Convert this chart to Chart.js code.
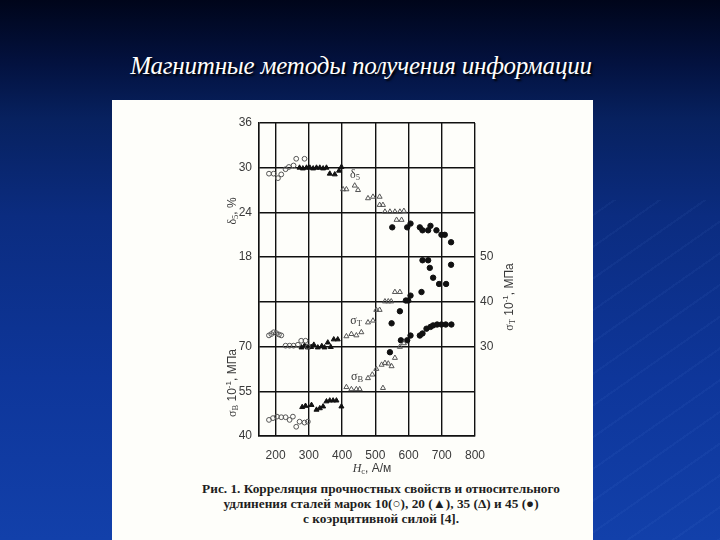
<!DOCTYPE html>
<html><head><meta charset="utf-8">
<script src="https://cdn.jsdelivr.net/npm/chart.js@4/dist/chart.umd.min.js"></script>
<style>
html,body{margin:0;padding:0;}
body{width:720px;height:540px;position:relative;overflow:hidden;
background:linear-gradient(180deg,#00051a 0%,#031240 12%,#07215f 22%,#0b2c80 40%,#0e369a 70%,#1240aa 100%);}
#streaks{position:absolute;left:590px;top:200px;width:130px;height:340px;
background:repeating-linear-gradient(-35deg,rgba(120,170,255,0.05) 0 2px,rgba(0,0,0,0) 2px 26px);}
#title{position:absolute;left:0;width:722px;top:52px;text-align:center;color:#fff;
font-family:"Liberation Serif",serif;font-style:italic;font-size:25px;letter-spacing:-0.2px;
text-shadow:2px 2px 2px #000;}
#panel{position:absolute;left:112px;top:100px;width:481px;height:440px;background:#fefefa;}
#cap{position:absolute;left:170px;width:422px;top:481px;text-align:center;color:#1e1e1e;
font-family:"Liberation Serif",serif;font-weight:bold;font-size:13.3px;line-height:15px;}
canvas{position:absolute;left:0;top:0;}
</style></head>
<body>
<div id="streaks"></div>
<div id="title">Магнитные методы получения информации</div>
<div id="panel"></div>
<div id="cap">Рис. 1. Корреляция прочностных свойств и относительного<br>удлинения сталей марок 10(○), 20 (▲), 35 (Δ) и 45 (●)<br>с коэрцитивной силой [4].</div>
<canvas id="c" width="720" height="540"></canvas>
<script>
// Tick labels
const xTicks = [200, 300, 400, 500, 600, 700, 800];
const deltaTicks = [18, 24, 30, 36];
const sigmaBTicks = [40, 55, 70];
const sigmaTTicks = [30, 40, 50];

// Steel 10 (open circles)
const hcD10 = [180, 194, 207, 217, 230, 240, 254, 262, 287];
const delta10 = [29.2, 29.2, 28.6, 29.1, 29.8, 30.1, 30.3, 31.2, 31.2];
const hcT10 = [180, 187, 194, 202, 210, 217, 230, 242, 254, 267, 277, 290, 297];
const sigT10 = [32.5, 32.8, 33.2, 33.0, 32.7, 32.5, 30.2, 30.2, 30.2, 30.4, 31.3, 31.3, 30.0];
const hcB10 = [180, 192, 204, 217, 230, 242, 252, 262, 272, 287, 297];
const sigB10 = [45.4, 46.0, 46.5, 46.3, 46.3, 45.4, 46.5, 43.1, 44.8, 44.5, 44.8];

// Steel 20 (filled triangles)
const hcD20 = [272, 282, 293, 303, 313, 323, 333, 343, 353, 363, 378, 391, 398];
const delta20 = [30.0, 29.9, 30.0, 30.0, 29.9, 30.0, 30.0, 29.9, 30.0, 29.2, 29.1, 29.6, 30.1];
const hcT20 = [278, 287, 297, 307, 315, 327, 339, 347, 357, 366, 375, 387];
const sigT20 = [29.8, 30.2, 29.8, 29.9, 30.4, 29.8, 30.1, 29.8, 30.9, 29.9, 31.6, 31.6];
const hcB20 = [280, 290, 308, 323, 333, 343, 353, 363, 373, 383, 398];
const sigB20 = [49.7, 50.1, 50.4, 48.8, 49.3, 49.9, 51.6, 51.9, 51.9, 51.9, 49.9];

// Steel 35 (open triangles)
const hcD35 = [403, 413, 438, 448, 478, 493, 513, 513, 523, 529, 544, 559, 574, 586, 564, 579];
const delta35 = [27.1, 27.1, 27.6, 27.0, 25.9, 26.1, 26.1, 25.0, 25.0, 24.1, 24.1, 24.1, 24.1, 24.2, 23.0, 23.0];
const hcT35 = [413, 428, 443, 458, 478, 493, 503, 513, 529, 539, 548, 559, 574];
const sigT35 = [32.3, 32.8, 32.5, 33.2, 35.4, 35.8, 38.2, 38.2, 40.1, 40.1, 40.1, 42.2, 42.2];
const hcB35 = [413, 428, 443, 453, 478, 491, 503, 519, 529, 539, 549, 559, 523, 574, 586];
const sigB35 = [56.4, 55.7, 55.7, 55.7, 59.4, 60.6, 62.5, 63.9, 64.5, 64.3, 63.4, 66.2, 56.1, 69.9, 71.1];

// Steel 45 (filled circles)
const hcD45 = [551, 596, 606, 634, 642, 659, 666, 684, 699, 709, 728];
const delta45 = [22.0, 22.0, 22.5, 22.0, 21.6, 21.6, 22.2, 21.6, 21.0, 21.0, 20.0];
const hcT45 = [549, 574, 592, 599, 606, 639, 642, 659, 664, 674, 692, 713, 728];
const sigT45 = [35.2, 37.9, 40.3, 40.3, 41.4, 42.2, 49.3, 49.3, 47.6, 45.4, 44.0, 44.0, 48.3];
const hcB45 = [544, 577, 596, 606, 634, 642, 654, 666, 674, 686, 699, 712, 729];
const sigB45 = [68.1, 72.1, 72.1, 73.7, 73.7, 74.4, 76.0, 76.6, 77.1, 77.4, 77.4, 77.4, 77.4];

const pts = (xs, ys) => xs.map((x, i) => ({x: x, y: ys[i]}));

const st = {
  s10: {pointStyle: 'circle', pointRadius: 2.4, pointBackgroundColor: 'rgba(255,255,255,0)', pointBorderColor: '#555', pointBorderWidth: 1},
  s20: {pointStyle: 'triangle', pointRadius: 2.9, pointBackgroundColor: '#111', pointBorderColor: '#111', pointBorderWidth: 1},
  s35: {pointStyle: 'triangle', pointRadius: 2.9, pointBackgroundColor: 'rgba(255,255,255,0)', pointBorderColor: '#555', pointBorderWidth: 1},
  s45: {pointStyle: 'circle', pointRadius: 2.7, pointBackgroundColor: '#111', pointBorderColor: '#111', pointBorderWidth: 1}
};
function ds(label, data, axis, style) {
  return Object.assign({label: label, data: data, yAxisID: axis, showLine: false}, style);
}

const Y_MIN = -6, Y_MAX = 36, YB_MIN = 40, YB_MAX = 145;
const GRID = '#111';

const textPlugin = {
  id: 'texts',
  afterDraw(chart) {
    const ctx = chart.ctx;
    function rich(segs, x, y, rot) {
      ctx.save();
      ctx.translate(x, y);
      ctx.rotate(rot);
      let w = 0;
      segs.forEach(s => { ctx.font = s.f; s.w = ctx.measureText(s.t).width; w += s.w; });
      let cx = -w / 2;
      ctx.fillStyle = '#3a3a3a';
      ctx.textBaseline = 'middle';
      ctx.textAlign = 'left';
      segs.forEach(s => { ctx.font = s.f; ctx.fillText(s.t, cx, s.dy || 0); cx += s.w; });
      ctx.restore();
    }
    const F = '12px "Liberation Sans", sans-serif';
    const S = '8px "Liberation Sans", sans-serif';
    const FS = '12px "Liberation Serif", serif';
    const SS = '8.5px "Liberation Serif", serif';
    rich([{t: 'δ', f: FS}, {t: '5', f: SS, dy: 3}, {t: ', %', f: F}], 233, 211, -Math.PI / 2);
    rich([{t: 'σ', f: FS}, {t: 'В', f: SS, dy: 3}, {t: ' 10', f: F}, {t: '-1', f: S, dy: -4}, {t: ', МПа', f: F}], 233, 383, -Math.PI / 2);
    rich([{t: 'σ', f: FS}, {t: 'Т', f: SS, dy: 3}, {t: ' 10', f: F}, {t: '-1', f: S, dy: -4}, {t: ', МПа', f: F}], 510, 297, -Math.PI / 2);
    rich([{t: 'H', f: 'italic 12px "Liberation Serif", serif'}, {t: 'c', f: SS, dy: 3}, {t: ', A/м', f: F}], 372, 469, 0);
    rich([{t: 'δ', f: FS}, {t: '5', f: SS, dy: 3}], 355, 175, 0);
    rich([{t: 'σ', f: FS}, {t: 'Т', f: SS, dy: 3}], 356, 321, 0);
    rich([{t: 'σ', f: FS}, {t: 'В', f: SS, dy: 3}], 357, 377, 0);
  }
};

new Chart(document.getElementById('c'), {
  type: 'scatter',
  data: {
    datasets: [
      ds('δ5 10', pts(hcD10, delta10), 'y', st.s10),
      ds('σT 10', pts(hcT10, sigT10), 'yT', st.s10),
      ds('σB 10', pts(hcB10, sigB10), 'yB', st.s10),
      ds('δ5 20', pts(hcD20, delta20), 'y', st.s20),
      ds('σT 20', pts(hcT20, sigT20), 'yT', st.s20),
      ds('σB 20', pts(hcB20, sigB20), 'yB', st.s20),
      ds('δ5 35', pts(hcD35, delta35), 'y', st.s35),
      ds('σT 35', pts(hcT35, sigT35), 'yT', st.s35),
      ds('σB 35', pts(hcB35, sigB35), 'yB', st.s35),
      ds('δ5 45', pts(hcD45, delta45), 'y', st.s45),
      ds('σT 45', pts(hcT45, sigT45), 'yT', st.s45),
      ds('σB 45', pts(hcB45, sigB45), 'yB', st.s45)
    ]
  },
  options: {
    responsive: false,
    animation: false,
    devicePixelRatio: 1,
    layout: {padding: {left: 219, right: 205, top: 123, bottom: 74}},
    plugins: {legend: {display: false}, tooltip: {enabled: false}},
    scales: {
      x: {
        type: 'linear', min: 150, max: 800,
        afterBuildTicks: s => { s.ticks = [150].concat(xTicks).map(v => ({value: v})); },
        afterFit: s => { s.height = 30; },
        ticks: {padding: 12, color: '#3a3a3a', font: {family: 'Liberation Sans', size: 12},
          callback: v => xTicks.includes(v) ? String(v) : ''},
        grid: {color: GRID, lineWidth: 1.4, drawTicks: false},
        border: {display: true, color: GRID, width: 1.4}
      },
      y: {
        type: 'linear', position: 'left', min: Y_MIN, max: Y_MAX,
        afterBuildTicks: s => { const t = []; for (let v = Y_MIN; v <= Y_MAX; v += 6) t.push({value: v}); s.ticks = t; },
        afterFit: s => { s.width = 40; },
        ticks: {padding: 7, color: '#3a3a3a', font: {family: 'Liberation Sans', size: 12},
          callback: v => {
            if (deltaTicks.includes(v)) return String(v);
            const b = Math.round(YB_MIN + (v - Y_MIN) / (Y_MAX - Y_MIN) * (YB_MAX - YB_MIN));
            return sigmaBTicks.includes(b) ? String(b) : '';
          }},
        grid: {color: GRID, lineWidth: 1.4, drawTicks: false},
        border: {display: true, color: GRID, width: 1.4}
      },
      yB: {type: 'linear', display: false, min: YB_MIN, max: YB_MAX},
      yT: {
        type: 'linear', position: 'right', min: 10, max: 80,
        afterBuildTicks: s => { s.ticks = sigmaTTicks.map(v => ({value: v})); },
        afterFit: s => { s.width = 40; },
        ticks: {padding: 5, color: '#3a3a3a', font: {family: 'Liberation Sans', size: 12}},
        grid: {display: false, drawTicks: false},
        border: {display: false}
      }
    }
  },
  plugins: [textPlugin]
});
</script>
</body></html>
